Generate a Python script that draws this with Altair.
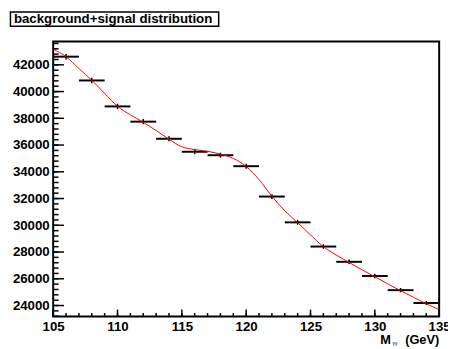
import altair as alt
import pandas as pd

# ---- data ----
bin_centers = [106, 108, 110, 112, 114, 116, 118, 120, 122, 124, 126, 128, 130, 132, 134]
bin_values = [42610, 40830, 38890, 37750, 36470, 35500, 35240, 34420, 32150, 30220, 28410, 27270, 26210, 25150, 24190]
bin_errors = [206, 202, 197, 194, 191, 188, 188, 186, 179, 174, 169, 165, 162, 159, 156]

curve_x = [105, 106, 107, 108, 109, 110, 111, 112, 113, 114, 115, 116, 117, 118, 119, 120,
           121, 122, 123, 124, 125, 126, 127, 128, 129, 130, 131, 132, 133, 134, 135]
curve_y = [43180, 42600, 41720, 40850, 39860, 38900, 38260, 37700, 37090, 36440, 35870, 35660,
           35530, 35320, 35000, 34400, 33420, 32170, 31080, 30200, 29280, 28400, 27780, 27220,
           26670, 26150, 25620, 25110, 24620, 24130, 23700]

x_major = [105, 110, 115, 120, 125, 130, 135]
x_minor = [105, 106, 107, 108, 109, 110, 111, 112, 113, 114, 115, 116, 117, 118, 119, 120,
           121, 122, 123, 124, 125, 126, 127, 128, 129, 130, 131, 132, 133, 134, 135]
y_major = [24000, 26000, 28000, 30000, 32000, 34000, 36000, 38000, 40000, 42000]
y_minor = [23200, 23600, 24000, 24400, 24800, 25200, 25600, 26000, 26400, 26800, 27200, 27600,
           28000, 28400, 28800, 29200, 29600, 30000, 30400, 30800, 31200, 31600, 32000, 32400,
           32800, 33200, 33600, 34000, 34400, 34800, 35200, 35600, 36000, 36400, 36800, 37200,
           37600, 38000, 38400, 38800, 39200, 39600, 40000, 40400, 40800, 41200, 41600, 42000,
           42400, 42800, 43200, 43600]

title_text = "background+signal distribution"
x_title_main = "M"
x_title_sub = "γγ"
x_title_unit = "(GeV)"

X_DOMAIN = [105, 135]
Y_DOMAIN = [23180, 43745]
W, H = 393, 280
FONT = "Liberation Sans"

# ---- tables ----
bins = pd.DataFrame({"c": bin_centers, "v": bin_values, "e": bin_errors})
bins["lo"] = bins["c"] - 1
bins["hi"] = bins["c"] + 1
bins["vlo"] = bins["v"] - bins["e"]
bins["vhi"] = bins["v"] + bins["e"]
curve = pd.DataFrame({"x": curve_x, "y": curve_y})

xs = alt.Scale(domain=X_DOMAIN, nice=False, zero=False)
ys = alt.Scale(domain=Y_DOMAIN, nice=False, zero=False)

x_axis = alt.Axis(values=x_major, format="d", ticks=False, domain=False, grid=False,
                  labelFont=FONT, labelFontWeight="bold", labelFontSize=13.5, labelColor="black",
                  labelPadding=3, labelFlush=False, labelOverlap=False, title=None)
y_axis = alt.Axis(values=y_major, format="d", ticks=False, domain=False, grid=False,
                  labelFont=FONT, labelFontWeight="bold", labelFontSize=13.5, labelColor="black",
                  labelPadding=4, labelFlush=False, labelOverlap=False, title=None)


def X(f):
    return alt.X(f, scale=xs, axis=x_axis)


def Y(f):
    return alt.Y(f, scale=ys, axis=y_axis)


base = alt.Chart(bins)

hbars = base.mark_rule(color="black", strokeWidth=2).encode(
    x=X("lo:Q"), x2="hi:Q", y=Y("v:Q"))
vbars = base.mark_rule(color="black", strokeWidth=1.5).encode(
    x=X("c:Q"), y=Y("vlo:Q"), y2="vhi:Q")

line = alt.Chart(curve).mark_line(color="#ff0000", strokeWidth=1, interpolate="monotone").encode(
    x=X("x:Q"), y=Y("y:Q"))

ymaj = alt.Chart(pd.DataFrame({"t": y_major})).mark_rule(color="black", strokeWidth=1.5).encode(
    y=Y("t:Q"), x=alt.value(0), x2=alt.value(11))
ymin = alt.Chart(pd.DataFrame({"t": y_minor})).mark_rule(color="black", strokeWidth=1.5).encode(
    y=Y("t:Q"), x=alt.value(0), x2=alt.value(5.5))
xmaj = alt.Chart(pd.DataFrame({"t": x_major})).mark_rule(color="black", strokeWidth=1.5).encode(
    x=X("t:Q"), y=alt.value(H), y2=alt.value(H - 7))
xmin = alt.Chart(pd.DataFrame({"t": x_minor})).mark_rule(color="black", strokeWidth=1.5).encode(
    x=X("t:Q"), y=alt.value(H), y2=alt.value(H - 3.5))

tdf = alt.Chart(pd.DataFrame({"t": [title_text]}))
title_box = tdf.mark_rect(fill="white", stroke="black", strokeWidth=1.5).encode(
    x=alt.value(-43.5), x2=alt.value(168.5), y=alt.value(-30), y2=alt.value(-15.5))
title_txt = tdf.mark_text(align="left", baseline="alphabetic", font=FONT, fontWeight="bold",
                          fontSize=13.5, color="black").encode(
    text="t:N", x=alt.value(-40), y=alt.value(-18.5))

xt_main = alt.Chart(pd.DataFrame({"t": [x_title_main]})).mark_text(
    align="left", baseline="alphabetic", font=FONT, fontWeight="bold", fontSize=13, color="black"
).encode(text="t:N", x=alt.value(333), y=alt.value(308))
xt_sub = alt.Chart(pd.DataFrame({"t": [x_title_sub]})).mark_text(
    align="left", baseline="alphabetic", font=FONT, fontSize=5, color="black"
).encode(text="t:N", x=alt.value(345.5), y=alt.value(309.5))
xt_unit = alt.Chart(pd.DataFrame({"t": [x_title_unit]})).mark_text(
    align="right", baseline="alphabetic", font=FONT, fontWeight="bold", fontSize=13, color="black"
).encode(text="t:N", x=alt.value(393), y=alt.value(308))

chart = alt.layer(
    hbars, vbars, line, ymaj, ymin, xmaj, xmin, title_box, title_txt, xt_main, xt_sub, xt_unit
).properties(
    width=W, height=H,
    padding={"left": 46, "top": 31, "right": 9, "bottom": 30},
    autosize=alt.AutoSizeParams(type="none"),
    background="white",
).configure_view(
    stroke="black", strokeWidth=2, fill="white"
)

chart.save("out.html", embed_options={"renderer": "svg", "actions": False})
